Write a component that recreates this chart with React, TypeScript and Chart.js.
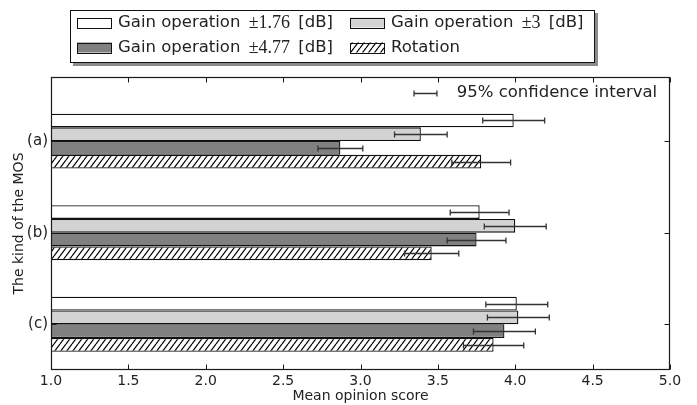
import React, { useEffect, useRef } from 'react';
import { Chart, registerables } from 'chart.js';

Chart.register(...registerables);

// ---- data ----
const categories = ['(a)', '(b)', '(c)'];
const seriesNames = [
  'Gain operation ±1.76 [dB]',
  'Gain operation ±3 [dB]',
  'Gain operation ±4.77 [dB]',
  'Rotation',
];
const gain176 = [3.99, 3.77, 4.01];
const gain176Err = [0.2, 0.19, 0.2];
const gain3 = [3.39, 4.0, 4.02];
const gain3Err = [0.17, 0.2, 0.2];
const gain477 = [2.87, 3.75, 3.93];
const gain477Err = [0.145, 0.19, 0.2];
const rotation = [3.78, 3.46, 3.86];
const rotationErr = [0.19, 0.175, 0.195];
const xMin = 1.0;
const xMax = 5.0;
const xStep = 0.5;
const xTitle = 'Mean opinion score';
const yTitle = 'The kind of the MOS';
const ciLabel = '95% confidence interval';
const ciSample = { from: 3.346, to: 3.494, y: 2.52, textX: 3.622 };

const seriesValues = [gain176, gain3, gain477, rotation];
const seriesErrs = [gain176Err, gain3Err, gain477Err, rotationErr];
const solidFills = ['#ffffff', '#d3d3d3', '#808080'];

const TEXT = '#222222';
const SANS = "'DejaVu Sans'";
const SERIF = "'Liberation Serif'";

function makeHatch(): CanvasPattern | string {
  const w = 6;
  const h = 8;
  const c = document.createElement('canvas');
  c.width = w;
  c.height = h;
  const g = c.getContext('2d');
  if (!g) return '#ffffff';
  g.fillStyle = '#ffffff';
  g.fillRect(0, 0, w, h);
  g.strokeStyle = '#000000';
  g.lineWidth = 1.2;
  for (const off of [-w, 0, w]) {
    g.beginPath();
    g.moveTo(off, h);
    g.lineTo(off + w, 0);
    g.stroke();
  }
  const p = g.createPattern(c, 'repeat');
  return p || '#ffffff';
}

function drawMixedLabel(ctx: CanvasRenderingContext2D, text: string, x: number, y: number) {
  const parts = text.split(/(±[\d.]+)/);
  let cx = x;
  ctx.textBaseline = 'middle';
  ctx.textAlign = 'left';
  for (const part of parts) {
    if (!part) continue;
    const isMath = /^±[\d.]+$/.test(part);
    if (isMath) {
      ctx.font = `18px ${SERIF}`;
      cx += 3;
      ctx.fillText(part, cx, y + 1);
      cx += ctx.measureText(part).width + 3;
    } else {
      ctx.font = `16.5px ${SANS}`;
      ctx.fillText(part, cx, y);
      cx += ctx.measureText(part).width;
    }
  }
}

export default function App() {
  const ref = useRef<HTMLCanvasElement | null>(null);

  useEffect(() => {
    const canvas = ref.current;
    if (!canvas) return;
    const hatch = makeHatch();
    const fills: (string | CanvasPattern)[] = [...solidFills, hatch];
    const n = categories.length;

    const decor = {
      id: 'decor',
      afterDatasetsDraw(chart: any) {
        const ctx: CanvasRenderingContext2D = chart.ctx;
        const xs = chart.scales.x;
        const ys = chart.scales.y;
        const area = chart.chartArea;
        ctx.save();
        // error bars
        ctx.strokeStyle = '#333333';
        ctx.lineWidth = 1.3;
        seriesErrs.forEach((errs, k) => {
          const meta = chart.getDatasetMeta(k);
          meta.data.forEach((el: any, i: number) => {
            const v = seriesValues[k][i];
            const e = errs[i];
            const x0 = xs.getPixelForValue(v - e);
            const x1 = xs.getPixelForValue(v + e);
            const y = Math.round(el.y) + 0.5;
            ctx.beginPath();
            ctx.moveTo(x0, y);
            ctx.lineTo(x1, y);
            ctx.moveTo(x0, y - 3);
            ctx.lineTo(x0, y + 3);
            ctx.moveTo(x1, y - 3);
            ctx.lineTo(x1, y + 3);
            ctx.stroke();
          });
        });
        // frame
        ctx.strokeStyle = '#1a1a1a';
        ctx.lineWidth = 1.2;
        const L = Math.round(area.left) + 0.5;
        const R = Math.round(area.right) - 0.5;
        const T = Math.round(area.top) + 0.5;
        const B = Math.round(area.bottom) - 0.5;
        ctx.strokeRect(L, T, R - L, B - T);
        // inward ticks
        const tl = 5;
        ctx.lineWidth = 1;
        ctx.beginPath();
        for (let v = xMin; v <= xMax + 1e-9; v += xStep) {
          const px = Math.round(xs.getPixelForValue(v)) + 0.5;
          ctx.moveTo(px, B);
          ctx.lineTo(px, B - tl);
          ctx.moveTo(px, T);
          ctx.lineTo(px, T + tl);
        }
        for (let i = 0; i < n; i++) {
          const py = Math.round(ys.getPixelForValue(n - 1 - i)) + 0.5;
          ctx.moveTo(L, py);
          ctx.lineTo(L + tl, py);
          ctx.moveTo(R, py);
          ctx.lineTo(R - tl, py);
        }
        ctx.stroke();
        // confidence interval annotation
        const cy = Math.round(ys.getPixelForValue(ciSample.y)) + 0.5;
        const cx0 = xs.getPixelForValue(ciSample.from);
        const cx1 = xs.getPixelForValue(ciSample.to);
        ctx.strokeStyle = '#333333';
        ctx.lineWidth = 1.3;
        ctx.beginPath();
        ctx.moveTo(cx0, cy);
        ctx.lineTo(cx1, cy);
        ctx.moveTo(cx0, cy - 3);
        ctx.lineTo(cx0, cy + 3);
        ctx.moveTo(cx1, cy - 3);
        ctx.lineTo(cx1, cy + 3);
        ctx.stroke();
        ctx.fillStyle = TEXT;
        ctx.font = `16.5px ${SANS}`;
        ctx.textAlign = 'left';
        ctx.textBaseline = 'middle';
        ctx.fillText(ciLabel, xs.getPixelForValue(ciSample.textX), cy - 0.5);
        ctx.restore();
      },
      afterDraw(chart: any) {
        const ctx: CanvasRenderingContext2D = chart.ctx;
        ctx.save();
        const bx = 70, by = 10, bw = 525, bh = 53;
        ctx.fillStyle = 'rgba(0,0,0,0.45)';
        ctx.fillRect(bx + 3, by + 3, bw, bh);
        ctx.fillStyle = '#ffffff';
        ctx.fillRect(bx, by, bw, bh);
        ctx.strokeStyle = '#111111';
        ctx.lineWidth = 1;
        ctx.strokeRect(bx + 0.5, by + 0.5, bw - 1, bh - 1);
        const colSwatch = [77, 350];
        const colText = [118, 391];
        const rowY = [22.5, 47.5];
        seriesNames.forEach((name, k) => {
          const col = k % 2;
          const row = Math.floor(k / 2);
          const sx = colSwatch[col];
          const sy = rowY[row];
          ctx.fillStyle = fills[k] as any;
          ctx.fillRect(sx, sy - 5, 35, 10);
          ctx.strokeStyle = '#111111';
          ctx.strokeRect(sx + 0.5, Math.round(sy - 5) + 0.5, 34, 10);
          ctx.fillStyle = TEXT;
          drawMixedLabel(ctx, name, colText[col], sy);
        });
        ctx.restore();
      },
    };

    const chart = new Chart(canvas, {
      type: 'bar',
      data: {
        datasets: seriesValues.map((vals, k) => ({
          label: seriesNames[k],
          data: vals.map((v, i) => ({ x: v, y: n - 1 - i })),
          backgroundColor: fills[k] as any,
          borderColor: '#111111',
          borderWidth: 1.3,
          borderSkipped: 'start',
          categoryPercentage: 0.6,
          barPercentage: 1.0,
        })),
      },
      options: {
        indexAxis: 'y',
        animation: false,
        responsive: false,
        devicePixelRatio: 1,
        events: [],
        layout: { padding: { top: 77, right: 27, left: 0, bottom: 0 } },
        plugins: {
          legend: { display: false },
          tooltip: { enabled: false },
        },
        scales: {
          x: {
            type: 'linear',
            position: 'bottom',
            min: xMin,
            max: xMax,
            offset: false,
            grid: { display: false, drawTicks: false },
            border: { display: false },
            ticks: {
              stepSize: xStep,
              autoSkip: false,
              maxRotation: 0,
              padding: 3,
              color: TEXT,
              font: { family: 'DejaVu Sans', size: 14 },
              callback: (v: any) => Number(v).toFixed(1),
            },
            title: {
              display: true,
              text: xTitle,
              color: TEXT,
              font: { family: 'DejaVu Sans', size: 14 },
              padding: { top: 0, bottom: 0 },
            },
            afterFit: (s: any) => {
              s.height = 35;
            },
          },
          y: {
            type: 'linear',
            position: 'left',
            min: -0.5,
            max: 2.7,
            offset: false,
            grid: { display: false, drawTicks: false, offset: false },
            border: { display: false },
            afterBuildTicks: (s: any) => {
              s.ticks = categories.map((_, i) => ({ value: n - 1 - i }));
            },
            ticks: {
              autoSkip: false,
              padding: 3,
              color: TEXT,
              font: { family: 'DejaVu Sans', size: 15 },
              callback: (v: any) => categories[n - 1 - Math.round(Number(v))],
            },
            title: {
              display: true,
              text: yTitle,
              color: TEXT,
              font: { family: 'DejaVu Sans', size: 14 },
              padding: { top: 11, bottom: 0 },
            },
            afterFit: (s: any) => {
              s.width = 51;
            },
          },
        },
      } as any,
      plugins: [decor],
    });
    return () => chart.destroy();
  }, []);

  return (
    <div style={{ position: 'fixed', left: 0, top: 0, width: 697, height: 405, background: '#ffffff' }}>
      <canvas ref={ref} width={697} height={405} style={{ display: 'block', width: 697, height: 405 }} />
    </div>
  );
}
